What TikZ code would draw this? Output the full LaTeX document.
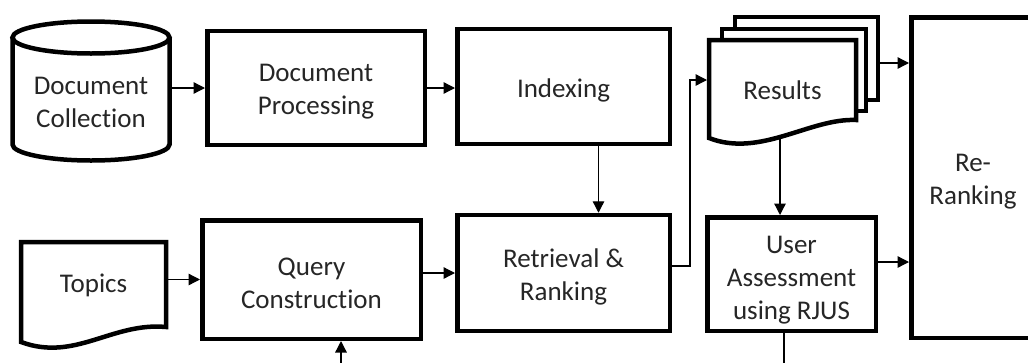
\documentclass[tikz,border=0pt]{standalone}
\usepackage{fontspec}
\setmainfont{Carlito}[Ligatures=NoCommon]
\usetikzlibrary{arrows.meta}
\newcommand\dgfont{\fontsize{27pt}{33pt}\selectfont}
\definecolor{txt}{HTML}{262626}
\begin{document}
\begin{tikzpicture}[x=1pt,y=-1pt,
  boxline/.style={draw=black, line width=4.5pt},
  box/.style={boxline, fill=white, inner sep=0pt},
  lbl/.style={align=center, inner sep=0pt, outer sep=0pt, font=\dgfont, text=txt},
  boxtext/.style={label={[lbl,yshift=-4pt]center:{#1}}},
  conn/.style={line width=1.3pt, -{Triangle[length=11.5pt,width=11.5pt]}},
  plainline/.style={line width=1.3pt}]
\useasboundingbox (0,0) rectangle (1028,362);
\clip (0,0) rectangle (1028,362);
\fill[white] (0,0) rectangle (1028,362);

% Document Collection (cylinder)
\draw[boxline] (12.5,37.5) -- (12.5,144.5) arc[start angle=180, end angle=360, x radius=78.5pt, y radius=16pt] -- (169.5,37.5);
\draw[boxline] (91,37.5) ellipse[x radius=78.5pt, y radius=16pt];
\node[lbl, minimum width=161pt] (coll) at (91,102) {Document\\Collection};

% Topics (document shape)
\draw[boxline] (21,242) -- (166,242) -- (166,327) .. controls (112,322) and (75,362) .. (21,342) -- cycle;
\node[lbl, minimum width=149pt] (topics) at (93.5,285) {Topics};

% Process boxes
\node[box, minimum width=217.5pt, minimum height=114pt, boxtext={Document\\Processing}] (proc) at (316,88) {};
\node[box, minimum width=212.5pt, minimum height=115pt, boxtext={Indexing}] (index) at (563.5,86.5) {};
\node[box, minimum width=212.5pt, minimum height=116pt, boxtext={Retrieval \&\\Ranking}] (retr) at (563.5,273) {};
\node[box, minimum width=218.5pt, minimum height=118.5pt, boxtext={Query\\Construction}] (query) at (311.5,279.5) {};
\node[box, minimum width=168.5pt, minimum height=113.5pt, label={[lbl,yshift=-6pt]center:{User\\Assessment\\using RJUS}}] (user) at (791.5,274) {};
\node[box, minimum width=123.5pt, minimum height=320.5pt, boxtext={Re-\\Ranking}] (rerank) at (973,177.5) {};

% Results (multi-document)
\node[box, minimum width=143pt, minimum height=83pt] (bk) at (806.5,58.5) {};
\node[box, minimum width=144pt, minimum height=82pt] (md) at (794,70) {};
\draw[boxline, fill=white] (709,40) -- (856,40) -- (856,120) .. controls (810,118) and (760,158) .. (709,138) -- cycle;
\node[lbl, minimum width=151pt] (res) at (782.5,90) {Results};
\coordinate (resb) at (780,138);

% free ends at the bottom
\coordinate (fb1) at (341,372);
\coordinate (fb2) at (784,372);

% Connectors
\draw[conn] (coll.east |- proc.west) -- (proc.west);
\draw[conn] (proc.east) -- (proc.east -| index.west);
\draw[conn] ([xshift=35pt]index.south) -- ([xshift=35pt]index.south |- retr.north);
\draw[conn] (topics.east |- query.west) -- (query.west);
\draw[conn] (query.east |- retr.west) -- (retr.west);
\draw[conn] ([yshift=7pt]retr.east) -- ++(18,0) |- ([yshift=10pt]res.west);
\draw[conn] (resb) -- (resb |- user.north);
\draw[conn] ([yshift=-4.5pt]bk.east) -- ([yshift=-4.5pt]bk.east -| rerank.west);
\draw[conn] ([yshift=12pt]user.east) -- ([yshift=12pt]user.east -| rerank.west);
\draw[conn] (fb1) -- (fb1 |- query.south);
\draw[plainline] (user.south -| fb2) -- (fb2);
\end{tikzpicture}
\end{document}
